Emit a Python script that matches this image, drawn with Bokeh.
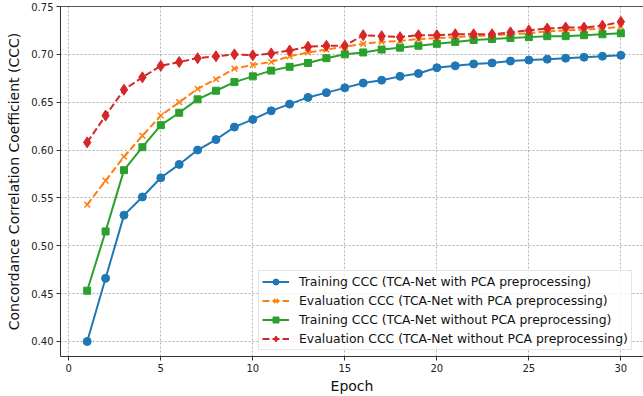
from bokeh.plotting import figure
from bokeh.models import Range1d, FixedTicker, PrintfTickFormatter, Legend, LegendItem, LinearAxis
from bokeh.embed import file_html
from bokeh.resources import INLINE

epochs = list(range(1, 31))

train_pca = [0.400, 0.466, 0.532, 0.551, 0.571, 0.585, 0.600, 0.611, 0.624, 0.632,
             0.641, 0.648, 0.655, 0.660, 0.665, 0.670, 0.673, 0.677, 0.680, 0.686,
             0.688, 0.690, 0.691, 0.693, 0.694, 0.695, 0.696, 0.697, 0.698, 0.699]
eval_pca = [0.543, 0.568, 0.593, 0.615, 0.636, 0.650, 0.664, 0.674, 0.685, 0.689,
            0.692, 0.698, 0.702, 0.705, 0.708, 0.711, 0.713, 0.714, 0.716, 0.717,
            0.718, 0.719, 0.720, 0.721, 0.722, 0.724, 0.725, 0.726, 0.727, 0.729]
train_nopca = [0.453, 0.515, 0.579, 0.603, 0.626, 0.639, 0.653, 0.662, 0.671, 0.677,
               0.683, 0.687, 0.691, 0.696, 0.700, 0.702, 0.705, 0.707, 0.709, 0.711,
               0.713, 0.715, 0.716, 0.717, 0.718, 0.719, 0.719, 0.720, 0.721, 0.722]
eval_nopca = [0.608, 0.636, 0.663, 0.676, 0.688, 0.692, 0.696, 0.698, 0.700, 0.699,
              0.701, 0.704, 0.708, 0.709, 0.709, 0.720, 0.719, 0.718, 0.720, 0.720,
              0.721, 0.721, 0.721, 0.723, 0.725, 0.727, 0.728, 0.728, 0.730, 0.734]

labels = [
    "Training CCC (TCA-Net with PCA preprocessing)",
    "Evaluation CCC (TCA-Net with PCA preprocessing)",
    "Training CCC (TCA-Net without PCA preprocessing)",
    "Evaluation CCC (TCA-Net without PCA preprocessing)",
]
x_ticks = [0, 5, 10, 15, 20, 25, 30]
y_ticks = [0.40, 0.45, 0.50, 0.55, 0.60, 0.65, 0.70, 0.75]

FONT = "DejaVu Sans"

p = figure(width=643, height=396, output_backend="svg", toolbar_location=None,
           x_range=Range1d(-0.45, 31.23), y_range=Range1d(0.3843, 0.75),
           min_border_left=60, min_border_right=0, min_border_top=6, min_border_bottom=40)
p.outline_line_color = None
p.background_fill_color = "white"
p.border_fill_color = "white"

for ax in (p.xaxis[0], p.yaxis[0]):
    ax.axis_line_color = "#333333"
    ax.axis_line_width = 1
    ax.major_tick_in = 0
    ax.major_tick_out = 4
    ax.major_tick_line_color = "#333333"
    ax.minor_tick_line_color = None
    ax.major_label_text_font = FONT
    ax.major_label_text_font_size = "10px"
    ax.major_label_text_color = "#222222"
    ax.major_label_standoff = 3
    ax.axis_label_text_font = FONT
    ax.axis_label_text_font_size = "14px"
    ax.axis_label_text_font_style = "normal"
    ax.axis_label_text_color = "#111111"
p.xaxis.axis_label_standoff = 3
p.yaxis.axis_label_standoff = 6

p.xaxis.ticker = FixedTicker(ticks=x_ticks)
p.yaxis.ticker = FixedTicker(ticks=y_ticks)
p.yaxis.formatter = PrintfTickFormatter(format="%.2f")
p.xaxis.axis_label = "Epoch"
p.yaxis.axis_label = "Concordance Correlation Coefficient (CCC)"

top = LinearAxis(ticker=FixedTicker(ticks=[]), axis_line_color="#555555", axis_line_width=1.2,
                 major_tick_out=0, major_tick_in=0, minor_tick_line_color=None,
                 major_label_standoff=0, major_label_text_font_size="0px")
p.add_layout(top, "above")

for g in (p.xgrid[0], p.ygrid[0]):
    g.grid_line_color = "#9a9a9a"
    g.grid_line_dash = "2 2"
    g.grid_line_width = 0.8
p.xgrid.ticker = FixedTicker(ticks=x_ticks)
p.ygrid.ticker = FixedTicker(ticks=y_ticks)

series = [
    (train_pca, "#1f77b4", "solid", "circle", 8),
    (eval_pca, "#ff7f0e", "7 3", "x", 8),
    (train_nopca, "#2ca02c", "solid", "square", 7),
    (eval_nopca, "#d62728", "7 3", "diamond", 11),
]

items = []
for (vals, color, dash, marker, size), lab in zip(series, labels):
    ln = p.line(epochs, vals, line_color=color, line_width=2, line_dash=dash)
    if marker == "x":
        sc = p.scatter(epochs, vals, marker=marker, size=size, line_color=color, line_width=1.5)
    else:
        sc = p.scatter(epochs, vals, marker=marker, size=size, fill_color=color, line_color=color)
    items.append(LegendItem(label=lab, renderers=[ln, sc]))

legend = Legend(items=items, location=(198, 6),
                label_text_font=FONT, label_text_font_size="12.4px", label_text_color="#111111",
                glyph_width=27, glyph_height=15, label_height=15, spacing=4, padding=3,
                margin=0, label_standoff=10,
                border_line_color="#cccccc", border_line_width=1,
                background_fill_color="white", background_fill_alpha=0.8)
p.add_layout(legend)

open("out.html", "w").write(file_html(p, INLINE))
